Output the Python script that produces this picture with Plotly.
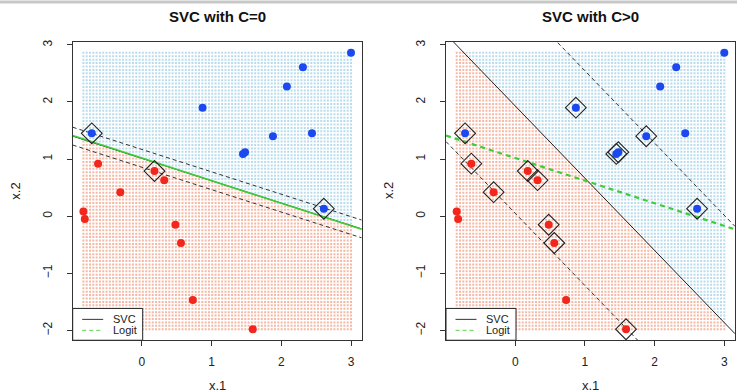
import numpy as np
import plotly.graph_objects as go

# Observations (two classes)
x1_blue = [3.00, 2.31, 2.08, 0.87, 1.88, 2.44, 1.45, 1.48, -0.72, 2.61]
x2_blue = [2.86, 2.61, 2.27, 1.90, 1.40, 1.45, 1.09, 1.12, 1.45, 0.13]
x1_red = [-0.63, 0.18, 0.32, -0.31, -0.84, -0.82, 0.48, 0.56, 0.73, 1.59]
x2_red = [0.92, 0.79, 0.63, 0.42, 0.08, -0.05, -0.15, -0.47, -1.47, -1.98]

# Support vectors per fit (indices into the class arrays)
sv_blue = [[8, 9], [3, 4, 6, 7, 8, 9]]
sv_red = [[1], [0, 1, 2, 3, 6, 7, 9]]

panel_titles = ["SVC with C=0", "SVC with C>0"]

# Fitted boundaries: x2 = intercept + slope * x1, margins offset vertically
svc_intercept = [1.012, 1.93]
svc_slope = [-0.392, -1.265]
svc_margin = [0.156, 1.88]
logit_intercept = 1.018
logit_slope = -0.396

tick_x = [0, 1, 2, 3]
tick_y = [-2, -1, 0, 1, 2, 3]
grid_n = 82

FONT = "Liberation Sans, Arial, Helvetica, sans-serif"
W, H = 737, 392

all_x1 = np.array(x1_blue + x1_red)
all_x2 = np.array(x2_blue + x2_red)


def padded(v):
    lo, hi = v.min(), v.max()
    d = (hi - lo) * 0.04
    return [lo - d, hi + d]


xr = padded(all_x1)
yr = padded(all_x2)

gx, gy = np.meshgrid(np.linspace(all_x1.min(), all_x1.max(), grid_n),
                     np.linspace(all_x2.min(), all_x2.max(), grid_n))
gx = gx.ravel()
gy = gy.ravel()

fig = go.Figure()

# plot areas in pixels: (left, right), shared top/bottom
px_x = [(72.7, 361.7), (446.0, 735.0)]
px_top, px_bot = 40.0, 340.0

for p in range(2):
    xa = "x" if p == 0 else "x2"
    ya = "y" if p == 0 else "y2"
    b0, b1 = svc_intercept[p], svc_slope[p]

    # classification grid
    above = gy > b0 + b1 * gx
    fig.add_trace(go.Scatter(x=gx[above], y=gy[above], mode="markers", xaxis=xa, yaxis=ya,
                             marker=dict(symbol="square", size=2, color="#b9dcec", line_width=0),
                             hoverinfo="skip", showlegend=False))
    fig.add_trace(go.Scatter(x=gx[~above], y=gy[~above], mode="markers", xaxis=xa, yaxis=ya,
                             marker=dict(symbol="square", size=2, color="#f6b8a4", line_width=0),
                             hoverinfo="skip", showlegend=False))

    lx = np.array(xr)
    # margins
    for s in (1, -1):
        fig.add_trace(go.Scatter(x=lx, y=b0 + s * svc_margin[p] + b1 * lx, mode="lines",
                                 xaxis=xa, yaxis=ya,
                                 line=dict(color="#333333", width=1, dash="4px,3px"),
                                 hoverinfo="skip", showlegend=False))
    # SVC boundary
    fig.add_trace(go.Scatter(x=lx, y=b0 + b1 * lx, mode="lines", xaxis=xa, yaxis=ya,
                             line=dict(color="#222222", width=1),
                             hoverinfo="skip", showlegend=False))
    # logistic regression boundary
    fig.add_trace(go.Scatter(x=lx, y=logit_intercept + logit_slope * lx, mode="lines",
                             xaxis=xa, yaxis=ya,
                             line=dict(color="#3fcc3a", width=1.6 if p == 0 else 2.2,
                                       dash="solid" if p == 0 else "5px,4px"),
                             hoverinfo="skip", showlegend=False))

    # observations
    fig.add_trace(go.Scatter(x=x1_red, y=x2_red, mode="markers", xaxis=xa, yaxis=ya,
                             marker=dict(symbol="circle", size=8, color="#f2261c", line_width=0),
                             showlegend=False))
    fig.add_trace(go.Scatter(x=x1_blue, y=x2_blue, mode="markers", xaxis=xa, yaxis=ya,
                             marker=dict(symbol="circle", size=8, color="#1c48f0", line_width=0),
                             showlegend=False))
    # support vectors
    svx = [x1_blue[i] for i in sv_blue[p]] + [x1_red[i] for i in sv_red[p]]
    svy = [x2_blue[i] for i in sv_blue[p]] + [x2_red[i] for i in sv_red[p]]
    fig.add_trace(go.Scatter(x=svx, y=svy, mode="markers", xaxis=xa, yaxis=ya,
                             marker=dict(symbol="diamond-open", size=16, color="#222222",
                                         line=dict(width=1.1, color="#222222")),
                             showlegend=False))

    l, r = px_x[p]
    dom_x = [l / W, r / W]
    dom_y = [(H - px_bot) / H, (H - px_top) / H]
    axis_common = dict(showgrid=False, zeroline=False, showline=True, mirror=True,
                       linecolor="#333333", linewidth=1, ticks="outside", ticklen=5,
                       tickcolor="#333333", tickfont=dict(family=FONT, size=12, color="#222"))
    fig.layout["xaxis" if p == 0 else "xaxis2"] = dict(
        domain=dom_x, range=xr, tickvals=tick_x, ticklabelstandoff=5,
        anchor=ya, **axis_common)
    fig.layout["yaxis" if p == 0 else "yaxis2"] = dict(
        domain=dom_y, range=yr, tickvals=tick_y, tickangle=-90, ticklabelstandoff=10,
        anchor=xa, **axis_common)

    cx = (l + r) / 2 / W
    fig.add_annotation(x=cx, y=(H - 15) / H, xref="paper", yref="paper",
                       xanchor="center", yanchor="middle",
                       text="<b>" + panel_titles[p] + "</b>", showarrow=False,
                       font=dict(family=FONT, size=15, color="#111"))
    fig.add_annotation(x=cx, y=(H - 385) / H, xref="paper", yref="paper", text="x.1",
                       xanchor="center", yanchor="middle",
                       showarrow=False, font=dict(family=FONT, size=13, color="#222"))
    fig.add_annotation(x=(l - 58) / W, y=(H - 190) / H, xref="paper", yref="paper",
                       xanchor="center", yanchor="middle",
                       text="x.2", textangle=-90, showarrow=False,
                       font=dict(family=FONT, size=13, color="#222"))

    # legend box
    xd = "x domain" if p == 0 else "x2 domain"
    yd = "y domain" if p == 0 else "y2 domain"
    bw = 70 / 289
    bh = 32 / 300
    fig.add_shape(type="rect", xref=xd, yref=yd, x0=0, x1=bw, y0=0, y1=bh,
                  fillcolor="white", line=dict(color="#222", width=1), layer="above")
    for k, (name, col, dash) in enumerate([("SVC", "#333333", "solid"),
                                           ("Logit", "#55d84a", "4px,3px")]):
        yy = (21 - 11 * k) / 300
        fig.add_shape(type="line", xref=xd, yref=yd, x0=9.5 / 289, x1=30.5 / 289,
                      y0=yy, y1=yy, line=dict(color=col, width=1, dash=dash), layer="above")
        fig.add_annotation(x=38 / 289, y=yy, xref=xd, yref=yd, text=name,
                           xanchor="left", yanchor="middle",
                           showarrow=False, font=dict(family=FONT, size=11, color="#222"))

# thin rule along the top edge
fig.add_shape(type="line", xref="paper", yref="paper", x0=0, x1=1, y0=1, y1=1,
              line=dict(color="#c8c8c8", width=3))

fig.update_layout(width=W, height=H, margin=dict(l=0, r=0, t=0, b=0),
                  plot_bgcolor="white", paper_bgcolor="white", showlegend=False)

fig.write_html("out.html")
